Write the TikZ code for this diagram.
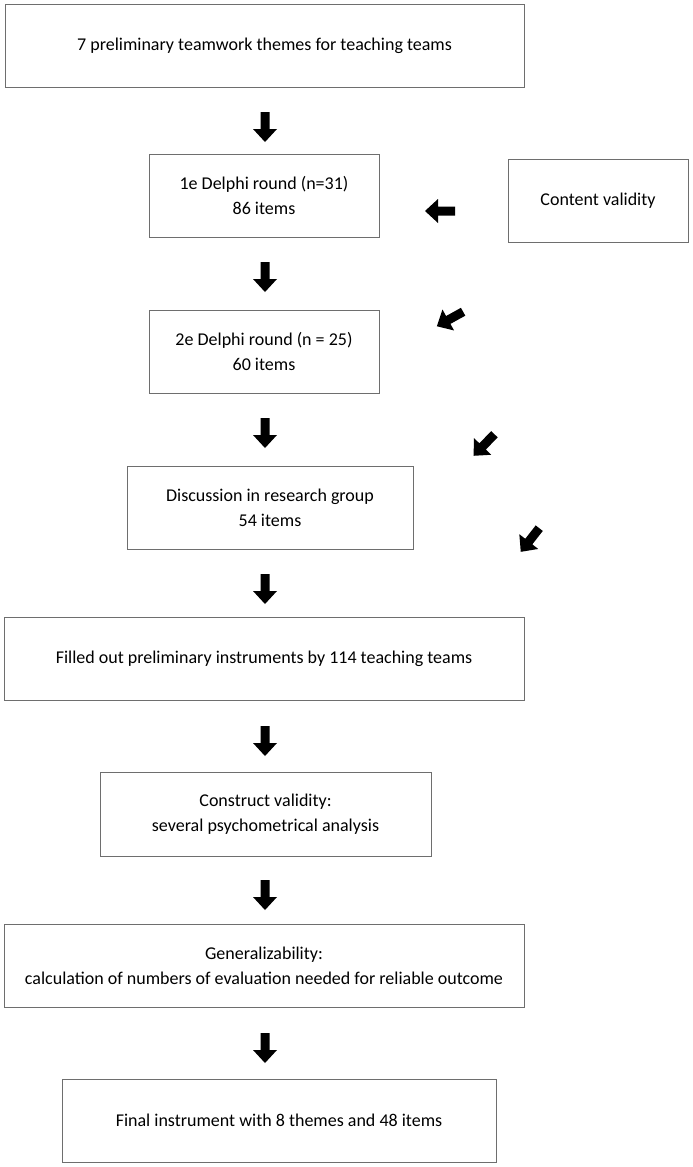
\documentclass[tikz,border=0pt]{standalone}
\usepackage{fontspec}
\setmainfont{Carlito}
\definecolor{boxgray}{RGB}{110,110,110}
\begin{document}
\begin{tikzpicture}[x=1pt,y=-1pt,
  box/.style={draw=boxgray, line width=1pt, rectangle, minimum height=83pt,
    inner sep=0pt, align=center, font=\fontsize{18}{25}\selectfont, text=black},
  blockarrow/.pic={\fill[black] (-15,-4.5) -- (2,-4.5) -- (2,-12) -- (15,0) -- (2,12) -- (2,4.5) -- (-15,4.5) -- cycle;}
]
\useasboundingbox[fill=white] (0,0) rectangle (693,1167);

\node[box, minimum width=519pt] (b1) at (264.5,45.5) {7 preliminary teamwork themes for teaching teams};
\node[box, minimum width=230pt] (b2) at (264,195.5) {1e Delphi round (n=31)\\86 items};
\node[box, minimum width=180pt] (cv) at (598,200.5) {Content validity};
\node[box, minimum width=230pt] (b3) at (264,351.5) {2e Delphi round (n = 25)\\60 items};
\node[box, minimum width=286pt] (b4) at (270,507.5) {Discussion in research group\\54 items};
\node[box, minimum width=520pt] (b5) at (264,658.5) {Filled out preliminary instruments by 114 teaching teams};
\node[box, minimum width=331pt, minimum height=84pt] (b6) at (265.5,814) {Construct validity:\\several psychometrical analysis};
\node[box, minimum width=520pt] (b7) at (264,965.5) {Generalizability:\\calculation of numbers of evaluation needed for reliable outcome};
\node[box, minimum width=434pt] (b8) at (279,1120.5) {Final instrument with 8 themes and 48 items};

% down arrows
\pic[rotate=-90] at (265,127) {blockarrow};
\pic[rotate=-90] at (265,277) {blockarrow};
\pic[rotate=-90] at (265,433) {blockarrow};
\pic[rotate=-90] at (265,589) {blockarrow};
\pic[rotate=-90] at (265,741) {blockarrow};
\pic[rotate=-90] at (265,895) {blockarrow};
\pic[rotate=-90] at (265,1048) {blockarrow};

% left arrow from content validity
\pic[rotate=180] at (440,211) {blockarrow};

% diagonal arrows
\pic[rotate=209] at (450,319) {blockarrow};
\pic[rotate=226] at (484,445) {blockarrow};
\pic[rotate=232] at (530,540) {blockarrow};
\end{tikzpicture}
\end{document}
